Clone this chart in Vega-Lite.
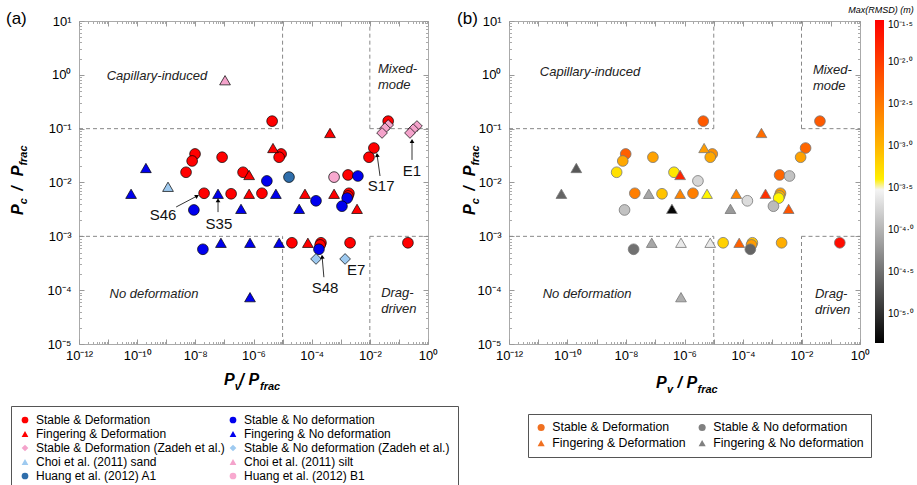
{
  "$schema": "https://vega.github.io/schema/vega-lite/v6.json",
  "padding": {"left": 5, "top": 5, "right": 0, "bottom": 0},
  "autosize": {"type": "pad"},
  "background": "white",
  "config": {
    "font": "Liberation Sans",
    "view": {"stroke": "#aaaaaa", "strokeWidth": 1},
    "axis": {"labelFont": "Liberation Sans", "labelColor": "#000000"},
    "legend": {"labelFont": "Liberation Sans", "titleFont": "Liberation Sans", "labelColor": "#000000", "titleColor": "#000000"},
    "text": {"font": "Liberation Sans"}
  },
  "datasets": {
    "pts": [
      {"pv": 9.77e-9, "pc": 0.0339, "group": "Stable & Deformation", "rmsd": 5.01e-3},
      {"pv": 7.76e-9, "pc": 0.0251, "group": "Stable & Deformation", "rmsd": 1.26e-3},
      {"pv": 4.79e-9, "pc": 0.0155, "group": "Stable & Deformation", "rmsd": 5.01e-4},
      {"pv": 8.32e-8, "pc": 0.0295, "group": "Stable & Deformation", "rmsd": 1.41e-3},
      {"pv": 2.0e-8, "pc": 0.00631, "group": "Stable & Deformation", "rmsd": 2.82e-3},
      {"pv": 1.70e-7, "pc": 0.00617, "group": "Stable & Deformation", "rmsd": 7.94e-4},
      {"pv": 4.37e-7, "pc": 0.0155, "group": "Stable & Deformation", "rmsd": 4.47e-4},
      {"pv": 1.95e-6, "pc": 0.00631, "group": "Stable & Deformation", "rmsd": 2.82e-3},
      {"pv": 4.37e-6, "pc": 0.138, "group": "Stable & Deformation", "rmsd": 5.62e-3},
      {"pv": 8.91e-6, "pc": 0.0339, "group": "Stable & Deformation", "rmsd": 2.0e-3},
      {"pv": 7.59e-6, "pc": 0.0295, "group": "Stable & Deformation", "rmsd": 1.26e-3},
      {"pv": 1.78e-3, "pc": 0.0138, "group": "Stable & Deformation", "rmsd": 4.47e-3},
      {"pv": 1.91e-3, "pc": 0.00631, "group": "Stable & Deformation", "rmsd": 1.58e-3},
      {"pv": 1.78e-3, "pc": 0.00562, "group": "Stable & Deformation", "rmsd": 1.0e-3},
      {"pv": 0.0138, "pc": 0.0437, "group": "Stable & Deformation", "rmsd": 4.47e-3},
      {"pv": 0.00933, "pc": 0.0295, "group": "Stable & Deformation", "rmsd": 1.41e-3},
      {"pv": 0.0427, "pc": 0.138, "group": "Stable & Deformation", "rmsd": 5.62e-3},
      {"pv": 2.09e-5, "pc": 7.59e-4, "group": "Stable & Deformation", "rmsd": 6.31e-4},
      {"pv": 2.09e-4, "pc": 7.59e-4, "group": "Stable & Deformation", "rmsd": 7.94e-4},
      {"pv": 1.95e-4, "pc": 6.92e-4, "group": "Stable & Deformation", "rmsd": 1.58e-3},
      {"pv": 2.09e-3, "pc": 7.59e-4, "group": "Stable & Deformation", "rmsd": 1.12e-3},
      {"pv": 0.204, "pc": 7.59e-4, "group": "Stable & Deformation", "rmsd": 0.0251},
      {"pv": 7.08e-7, "pc": 0.0138, "group": "Fingering & Deformation", "rmsd": 0.0158},
      {"pv": 7.08e-7, "pc": 0.00617, "group": "Fingering & Deformation", "rmsd": 2.51e-3},
      {"pv": 4.68e-6, "pc": 0.0437, "group": "Fingering & Deformation", "rmsd": 1.58e-3},
      {"pv": 4.27e-4, "pc": 0.0832, "group": "Fingering & Deformation", "rmsd": 3.98e-3},
      {"pv": 5.89e-5, "pc": 0.00617, "group": "Fingering & Deformation", "rmsd": 2.51e-3},
      {"pv": 5.89e-4, "pc": 0.00617, "group": "Fingering & Deformation", "rmsd": 0.0126},
      {"pv": 3.63e-3, "pc": 0.00324, "group": "Fingering & Deformation", "rmsd": 6.31e-3},
      {"pv": 7.41e-5, "pc": 7.59e-4, "group": "Fingering & Deformation", "rmsd": 5.01e-3},
      {"pv": 8.91e-9, "pc": 0.00309, "group": "Stable & No deformation", "rmsd": 1.26e-4},
      {"pv": 1.82e-8, "pc": 5.75e-4, "group": "Stable & No deformation", "rmsd": 3.16e-5},
      {"pv": 2.88e-6, "pc": 0.0107, "group": "Stable & No deformation", "rmsd": 1.78e-4},
      {"pv": 1.41e-4, "pc": 0.00457, "group": "Stable & No deformation", "rmsd": 2.0e-4},
      {"pv": 1.66e-3, "pc": 0.00513, "group": "Stable & No deformation", "rmsd": 3.55e-4},
      {"pv": 1.10e-3, "pc": 0.00363, "group": "Stable & No deformation", "rmsd": 1.12e-4},
      {"pv": 3.89e-3, "pc": 0.0132, "group": "Stable & No deformation", "rmsd": 1.26e-4},
      {"pv": 1.78e-4, "pc": 5.75e-4, "group": "Stable & No deformation", "rmsd": 2.51e-5},
      {"pv": 2.0e-10, "pc": 0.0186, "group": "Fingering & No deformation", "rmsd": 2.0e-5},
      {"pv": 6.17e-11, "pc": 0.00617, "group": "Fingering & No deformation", "rmsd": 2.51e-5},
      {"pv": 6.03e-8, "pc": 0.00617, "group": "Fingering & No deformation", "rmsd": 7.94e-5},
      {"pv": 3.72e-7, "pc": 0.00324, "group": "Fingering & No deformation", "rmsd": 5.01e-6},
      {"pv": 5.89e-6, "pc": 0.00617, "group": "Fingering & No deformation", "rmsd": 3.55e-4},
      {"pv": 3.72e-5, "pc": 0.00324, "group": "Fingering & No deformation", "rmsd": 6.31e-5},
      {"pv": 7.59e-8, "pc": 7.59e-4, "group": "Fingering & No deformation", "rmsd": 7.94e-5},
      {"pv": 7.59e-7, "pc": 7.59e-4, "group": "Fingering & No deformation", "rmsd": 2.51e-4},
      {"pv": 7.59e-6, "pc": 7.59e-4, "group": "Fingering & No deformation", "rmsd": 2.51e-4},
      {"pv": 7.59e-7, "pc": 7.41e-5, "group": "Fingering & No deformation", "rmsd": 8.91e-5},
      {"pv": 0.0427, "pc": 0.117, "group": "Stable & Deformation (Zadeh et al.)"},
      {"pv": 0.0331, "pc": 0.102, "group": "Stable & Deformation (Zadeh et al.)"},
      {"pv": 0.0263, "pc": 0.0832, "group": "Stable & Deformation (Zadeh et al.)"},
      {"pv": 0.417, "pc": 0.112, "group": "Stable & Deformation (Zadeh et al.)"},
      {"pv": 0.309, "pc": 0.0977, "group": "Stable & Deformation (Zadeh et al.)"},
      {"pv": 0.240, "pc": 0.0832, "group": "Stable & Deformation (Zadeh et al.)"},
      {"pv": 1.41e-4, "pc": 3.80e-4, "group": "Stable & No deformation (Zadeh et al.)"},
      {"pv": 1.41e-3, "pc": 3.80e-4, "group": "Stable & No deformation (Zadeh et al.)"},
      {"pv": 1.15e-9, "pc": 8.32e-3, "group": "Choi et al. (2011) sand"},
      {"pv": 1.05e-7, "pc": 0.794, "group": "Choi et al. (2011) silt"},
      {"pv": 1.66e-5, "pc": 0.0126, "group": "Huang et al. (2012) A1"},
      {"pv": 5.89e-4, "pc": 0.0126, "group": "Huang et al. (2012) B1"}
    ],
    "zones": [
      {"x": 1e-12, "x2": 1e-5, "y": 0.1, "y2": 0.1},
      {"x": 1e-5, "x2": 1e-5, "y": 0.1, "y2": 10},
      {"x": 1e-2, "x2": 1, "y": 0.1, "y2": 0.1},
      {"x": 1e-2, "x2": 1e-2, "y": 0.1, "y2": 10},
      {"x": 1e-12, "x2": 1e-5, "y": 1e-3, "y2": 1e-3},
      {"x": 1e-5, "x2": 1e-5, "y": 1e-5, "y2": 1e-3},
      {"x": 1e-2, "x2": 1, "y": 1e-3, "y2": 1e-3},
      {"x": 1e-2, "x2": 1e-2, "y": 1e-5, "y2": 1e-3}
    ],
    "arrows": [
      {"label": "S46", "x1": 2.19e-9, "y1": 3.51e-3, "x2": 1.15e-8, "y2": 5.62e-3},
      {"label": "S35", "x1": 6.03e-8, "y1": 2.82e-3, "x2": 6.03e-8, "y2": 4.68e-3},
      {"label": "S17", "x1": 2.24e-2, "y1": 1.32e-2, "x2": 1.78e-2, "y2": 3.24e-2},
      {"label": "E1", "x1": 0.282, "y1": 2.63e-2, "x2": 0.282, "y2": 5.89e-2},
      {"label": "S48", "x1": 2.63e-4, "y1": 1.74e-4, "x2": 2.29e-4, "y2": 4.17e-4}
    ],
    "notes": [
      {"label": "S46", "x": 7.76e-10, "y": 2.51e-3},
      {"label": "S35", "x": 6.46e-8, "y": 1.70e-3},
      {"label": "S17", "x": 2.45e-2, "y": 8.51e-3},
      {"label": "E1", "x": 0.282, "y": 1.62e-2},
      {"label": "S48", "x": 2.88e-4, "y": 1.10e-4},
      {"label": "E7", "x": 3.39e-3, "y": 2.34e-4}
    ]
  },
  "bounds": "flush",
  "spacing": 81,
  "resolve": {
    "scale": {"x": "independent", "y": "independent", "fill": "independent", "shape": "independent", "color": "independent"},
    "legend": {"fill": "independent", "shape": "independent", "color": "independent"},
    "axis": {"x": "independent", "y": "independent"}
  },
  "hconcat": [
    {
      "width": 349,
      "height": 323,
      "data": {"values": [{}]},
      "resolve": {"axis": {"x": "independent", "y": "independent"}},
      "layer": [
        {
          "data": {"name": "zones"},
          "mark": {"type": "rule", "strokeDash": [4, 3], "color": "#888888", "strokeWidth": 1},
          "encoding": {
            "x": {"field": "x", "type": "quantitative", "scale": {"type": "log", "domain": [1e-12, 1]},
              "axis": {"orient": "bottom", "values": [1e-12,1e-11,1e-10,1e-9,1e-8,1e-7,1e-6,1e-5,1e-4,1e-3,1e-2,1e-1,1], "labels": false, "tickSize": -5, "tickColor": "#999999", "domain": false, "grid": false, "title": null}},
            "x2": {"field": "x2"},
            "y": {"field": "y", "type": "quantitative", "scale": {"type": "log", "domain": [1e-5, 10]},
              "axis": {"orient": "left", "values": [1e-5,1e-4,1e-3,1e-2,1e-1,1,10], "labels": false, "tickSize": -5, "tickColor": "#999999", "domain": false, "grid": false, "title": null}},
            "y2": {"field": "y2"}
          }
        },
        {
          "data": {"name": "pts"},
          "mark": {"type": "point", "filled": true, "stroke": "#000000", "strokeWidth": 0.7, "size": 115, "opacity": 1},
          "encoding": {
            "x": {"field": "pv", "type": "quantitative", "scale": {"type": "log", "domain": [1e-12, 1]},
              "axis": {"orient": "bottom", "values": [1e-12,1e-10,1e-8,1e-6,1e-4,1e-2,1], "ticks": false, "domain": false, "grid": false, "title": null, "labelFontSize": 13, "labelPadding": 5, "labelFlush": false, "labelOverlap": false,
                "labelExpr": "'10' + (round(log(datum.value)/LN10) < 0 ? '⁻' : '') + (abs(round(log(datum.value)/LN10)) >= 10 ? ['⁰','¹','²','³','⁴','⁵','⁶','⁷','⁸','⁹'][floor(abs(round(log(datum.value)/LN10))/10)] : '') + ['⁰','¹','²','³','⁴','⁵','⁶','⁷','⁸','⁹'][abs(round(log(datum.value)/LN10)) % 10]"}},
            "y": {"field": "pc", "type": "quantitative", "scale": {"type": "log", "domain": [1e-5, 10]},
              "axis": {"orient": "left", "values": [1e-5,1e-4,1e-3,1e-2,1e-1,1,10], "ticks": false, "domain": false, "grid": false, "title": null, "labelFontSize": 13, "labelPadding": 8, "labelFlush": false, "labelOverlap": false,
                "labelExpr": "'10' + (round(log(datum.value)/LN10) < 0 ? '⁻' : '') + (abs(round(log(datum.value)/LN10)) >= 10 ? ['⁰','¹','²','³','⁴','⁵','⁶','⁷','⁸','⁹'][floor(abs(round(log(datum.value)/LN10))/10)] : '') + ['⁰','¹','²','³','⁴','⁵','⁶','⁷','⁸','⁹'][abs(round(log(datum.value)/LN10)) % 10]"}},
            "shape": {"field": "group", "type": "nominal",
              "scale": {"domain": ["Stable & Deformation", "Fingering & Deformation", "Stable & Deformation (Zadeh et al.)", "Choi et al. (2011) sand", "Huang et al. (2012) A1", "Stable & No deformation", "Fingering & No deformation", "Stable & No deformation (Zadeh et al.)", "Choi et al. (2011) silt", "Huang et al. (2012) B1"],
                "range": ["circle", "triangle-up", "diamond", "triangle-up", "circle", "circle", "triangle-up", "diamond", "triangle-up", "circle"]},
              "legend": {"orient": "none", "legendX": -68, "legendY": 385, "columns": 2, "title": null, "labelFontSize": 12, "symbolSize": 45, "symbolStrokeWidth": 0, "strokeColor": "#555555", "fillColor": "#ffffff", "padding": 8, "rowPadding": 2, "columnPadding": 2, "labelOffset": 5, "labelLimit": 400}},
            "fill": {"field": "group", "type": "nominal",
              "scale": {"domain": ["Stable & Deformation", "Fingering & Deformation", "Stable & Deformation (Zadeh et al.)", "Choi et al. (2011) sand", "Huang et al. (2012) A1", "Stable & No deformation", "Fingering & No deformation", "Stable & No deformation (Zadeh et al.)", "Choi et al. (2011) silt", "Huang et al. (2012) B1"],
                "range": ["#ff0000", "#ff0000", "#f4a3cb", "#9ecaf0", "#2f6eab", "#0000ee", "#0000ee", "#9ecaf0", "#f4a3cb", "#f8a9cf"]},
              "legend": {"orient": "none", "legendX": -68, "legendY": 385, "columns": 2, "title": null, "labelFontSize": 12, "symbolSize": 45, "symbolStrokeWidth": 0, "strokeColor": "#555555", "fillColor": "#ffffff", "padding": 8, "rowPadding": 2, "columnPadding": 2, "labelOffset": 5, "labelLimit": 400}}
          }
        },
        {
          "data": {"values": [{"label": "Capillary-induced", "x": 4.79e-10, "y": 0.955}, {"label": "No deformation", "x": 3.8e-10, "y": 8.51e-5}]},
          "mark": {"type": "text", "fontStyle": "italic", "fontSize": 13, "align": "center", "baseline": "middle", "color": "#222222"},
          "encoding": {
            "x": {"field": "x", "type": "quantitative", "scale": {"type": "log", "domain": [1e-12, 1]},
              "axis": {"orient": "bottom", "values": [2e-12,3e-12,4e-12,5e-12,6e-12,7e-12,8e-12,9e-12,2e-11,3e-11,4e-11,5e-11,6e-11,7e-11,8e-11,9e-11,2e-10,3e-10,4e-10,5e-10,6e-10,7e-10,8e-10,9e-10,2e-9,3e-9,4e-9,5e-9,6e-9,7e-9,8e-9,9e-9,2e-8,3e-8,4e-8,5e-8,6e-8,7e-8,8e-8,9e-8,2e-7,3e-7,4e-7,5e-7,6e-7,7e-7,8e-7,9e-7,2e-6,3e-6,4e-6,5e-6,6e-6,7e-6,8e-6,9e-6,2e-5,3e-5,4e-5,5e-5,6e-5,7e-5,8e-5,9e-5,2e-4,3e-4,4e-4,5e-4,6e-4,7e-4,8e-4,9e-4,2e-3,3e-3,4e-3,5e-3,6e-3,7e-3,8e-3,9e-3,2e-2,3e-2,4e-2,5e-2,6e-2,7e-2,8e-2,9e-2,0.2,0.3,0.4,0.5,0.6,0.7,0.8,0.9], "labels": false, "tickSize": -2.5, "tickColor": "#aaaaaa", "domain": false, "grid": false, "title": null}},
            "y": {"field": "y", "type": "quantitative", "scale": {"type": "log", "domain": [1e-5, 10]},
              "axis": {"orient": "left", "values": [2e-5,3e-5,4e-5,5e-5,6e-5,7e-5,8e-5,9e-5,2e-4,3e-4,4e-4,5e-4,6e-4,7e-4,8e-4,9e-4,2e-3,3e-3,4e-3,5e-3,6e-3,7e-3,8e-3,9e-3,2e-2,3e-2,4e-2,5e-2,6e-2,7e-2,8e-2,9e-2,0.2,0.3,0.4,0.5,0.6,0.7,0.8,0.9,2,3,4,5,6,7,8,9], "labels": false, "tickSize": -2.5, "tickColor": "#aaaaaa", "domain": false, "grid": false, "title": null}},
            "text": {"field": "label"}
          }
        },
        {
          "data": {"values": [{"label": "Mixed-\nmode", "x": 1.91e-2, "y": 1.28}, {"label": "Drag-\ndriven", "x": 2.45e-2, "y": 8.71e-5}]},
          "mark": {"type": "text", "fontStyle": "italic", "fontSize": 13, "align": "left", "baseline": "middle", "lineBreak": "\n", "lineHeight": 16, "color": "#222222"},
          "encoding": {
            "x": {"field": "x", "type": "quantitative", "scale": {"type": "log", "domain": [1e-12, 1]},
              "axis": {"orient": "top", "values": [1e-12,1e-11,1e-10,1e-9,1e-8,1e-7,1e-6,1e-5,1e-4,1e-3,1e-2,1e-1,1], "labels": false, "tickSize": -5, "tickColor": "#999999", "domain": false, "grid": false, "title": null}},
            "y": {"field": "y", "type": "quantitative", "scale": {"type": "log", "domain": [1e-5, 10]},
              "axis": {"orient": "right", "values": [1e-5,1e-4,1e-3,1e-2,1e-1,1,10], "labels": false, "tickSize": -5, "tickColor": "#999999", "domain": false, "grid": false, "title": null}},
            "text": {"field": "label"}
          }
        },
        {
          "data": {"name": "arrows"},
          "mark": {"type": "rule", "color": "#000000", "strokeWidth": 0.8},
          "encoding": {
            "x": {"field": "x1", "type": "quantitative", "scale": {"type": "log", "domain": [1e-12, 1]},
              "axis": {"orient": "top", "values": [2e-12,3e-12,4e-12,5e-12,6e-12,7e-12,8e-12,9e-12,2e-11,3e-11,4e-11,5e-11,6e-11,7e-11,8e-11,9e-11,2e-10,3e-10,4e-10,5e-10,6e-10,7e-10,8e-10,9e-10,2e-9,3e-9,4e-9,5e-9,6e-9,7e-9,8e-9,9e-9,2e-8,3e-8,4e-8,5e-8,6e-8,7e-8,8e-8,9e-8,2e-7,3e-7,4e-7,5e-7,6e-7,7e-7,8e-7,9e-7,2e-6,3e-6,4e-6,5e-6,6e-6,7e-6,8e-6,9e-6,2e-5,3e-5,4e-5,5e-5,6e-5,7e-5,8e-5,9e-5,2e-4,3e-4,4e-4,5e-4,6e-4,7e-4,8e-4,9e-4,2e-3,3e-3,4e-3,5e-3,6e-3,7e-3,8e-3,9e-3,2e-2,3e-2,4e-2,5e-2,6e-2,7e-2,8e-2,9e-2,0.2,0.3,0.4,0.5,0.6,0.7,0.8,0.9], "labels": false, "tickSize": -2.5, "tickColor": "#aaaaaa", "domain": false, "grid": false, "title": null}},
            "x2": {"field": "x2"},
            "y": {"field": "y1", "type": "quantitative", "scale": {"type": "log", "domain": [1e-5, 10]},
              "axis": {"orient": "right", "values": [2e-5,3e-5,4e-5,5e-5,6e-5,7e-5,8e-5,9e-5,2e-4,3e-4,4e-4,5e-4,6e-4,7e-4,8e-4,9e-4,2e-3,3e-3,4e-3,5e-3,6e-3,7e-3,8e-3,9e-3,2e-2,3e-2,4e-2,5e-2,6e-2,7e-2,8e-2,9e-2,0.2,0.3,0.4,0.5,0.6,0.7,0.8,0.9,2,3,4,5,6,7,8,9], "labels": false, "tickSize": -2.5, "tickColor": "#aaaaaa", "domain": false, "grid": false, "title": null}},
            "y2": {"field": "y2"}
          }
        },
        {
          "data": {"name": "arrows"},
          "mark": {"type": "point", "shape": "triangle-up", "filled": true, "color": "#000000", "size": 22, "opacity": 1},
          "encoding": {
            "x": {"field": "x2", "type": "quantitative", "scale": {"type": "log", "domain": [1e-12, 1]}, "axis": null},
            "y": {"field": "y2", "type": "quantitative", "scale": {"type": "log", "domain": [1e-5, 10]}, "axis": null},
            "angle": {"condition": [{"test": "datum.label === 'S46'", "value": 60}, {"test": "datum.label === 'S17'", "value": 352}, {"test": "datum.label === 'S48'", "value": 354}], "value": 0}
          }
        },
        {
          "data": {"name": "notes"},
          "mark": {"type": "text", "fontSize": 15, "align": "center", "baseline": "middle", "color": "#111111"},
          "encoding": {
            "x": {"field": "x", "type": "quantitative", "scale": {"type": "log", "domain": [1e-12, 1]}, "axis": null},
            "y": {"field": "y", "type": "quantitative", "scale": {"type": "log", "domain": [1e-5, 10]}, "axis": null},
            "text": {"field": "label"}
          }
        },
        {
          "mark": {"type": "text", "text": "(a)", "fontSize": 17, "align": "left", "baseline": "alphabetic"},
          "encoding": {
            "x": {"datum": 3.09e-15, "type": "quantitative", "scale": {"type": "log", "domain": [1e-12, 1]}, "axis": null},
            "y": {"datum": 8.79, "type": "quantitative", "scale": {"type": "log", "domain": [1e-5, 10]}, "axis": null}
          }
        },
        {
          "mark": {"type": "text", "text": "P", "fontSize": 16, "fontWeight": "bold", "fontStyle": "italic", "align": "left", "baseline": "alphabetic"},
          "encoding": {
            "x": {"datum": 9.687e-8, "type": "quantitative", "scale": {"type": "log", "domain": [1e-12, 1]}, "axis": null},
            "y": {"datum": 1.730e-6, "type": "quantitative", "scale": {"type": "log", "domain": [1e-5, 10]}, "axis": null}
          }
        },
        {
          "mark": {"type": "text", "text": "v", "fontSize": 11, "fontWeight": "bold", "fontStyle": "italic", "align": "left", "baseline": "alphabetic"},
          "encoding": {
            "x": {"datum": 2.261e-7, "type": "quantitative", "scale": {"type": "log", "domain": [1e-12, 1]}, "axis": null},
            "y": {"datum": 1.396e-6, "type": "quantitative", "scale": {"type": "log", "domain": [1e-5, 10]}, "axis": null}
          }
        },
        {
          "mark": {"type": "text", "text": "/ P", "fontSize": 16, "fontWeight": "bold", "fontStyle": "italic", "align": "left", "baseline": "alphabetic"},
          "encoding": {
            "x": {"datum": 3.306e-7, "type": "quantitative", "scale": {"type": "log", "domain": [1e-12, 1]}, "axis": null},
            "y": {"datum": 1.730e-6, "type": "quantitative", "scale": {"type": "log", "domain": [1e-5, 10]}, "axis": null}
          }
        },
        {
          "mark": {"type": "text", "text": "frac", "fontSize": 11, "fontWeight": "bold", "fontStyle": "italic", "align": "left", "baseline": "alphabetic"},
          "encoding": {
            "x": {"datum": 1.676e-6, "type": "quantitative", "scale": {"type": "log", "domain": [1e-12, 1]}, "axis": null},
            "y": {"datum": 1.396e-6, "type": "quantitative", "scale": {"type": "log", "domain": [1e-5, 10]}, "axis": null}
          }
        },
        {
          "mark": {"type": "text", "text": "P", "angle": 270, "fontSize": 16, "fontWeight": "bold", "fontStyle": "italic", "align": "left", "baseline": "alphabetic"},
          "encoding": {
            "x": {"datum": 1.186e-14, "type": "quantitative", "scale": {"type": "log", "domain": [1e-12, 1]}, "axis": null},
            "y": {"datum": 2.489e-3, "type": "quantitative", "scale": {"type": "log", "domain": [1e-5, 10]}, "axis": null}
          }
        },
        {
          "mark": {"type": "text", "text": "c", "angle": 270, "fontSize": 11, "fontWeight": "bold", "fontStyle": "italic", "align": "left", "baseline": "alphabetic"},
          "encoding": {
            "x": {"datum": 1.694e-14, "type": "quantitative", "scale": {"type": "log", "domain": [1e-12, 1]}, "axis": null},
            "y": {"datum": 3.933e-3, "type": "quantitative", "scale": {"type": "log", "domain": [1e-5, 10]}, "axis": null}
          }
        },
        {
          "mark": {"type": "text", "text": "/", "angle": 270, "fontSize": 16, "fontWeight": "bold", "fontStyle": "italic", "align": "left", "baseline": "alphabetic"},
          "encoding": {
            "x": {"datum": 1.186e-14, "type": "quantitative", "scale": {"type": "log", "domain": [1e-12, 1]}, "axis": null},
            "y": {"datum": 7.0e-3, "type": "quantitative", "scale": {"type": "log", "domain": [1e-5, 10]}, "axis": null}
          }
        },
        {
          "mark": {"type": "text", "text": "P", "angle": 270, "fontSize": 16, "fontWeight": "bold", "fontStyle": "italic", "align": "left", "baseline": "alphabetic"},
          "encoding": {
            "x": {"datum": 1.186e-14, "type": "quantitative", "scale": {"type": "log", "domain": [1e-12, 1]}, "axis": null},
            "y": {"datum": 1.30e-2, "type": "quantitative", "scale": {"type": "log", "domain": [1e-5, 10]}, "axis": null}
          }
        },
        {
          "mark": {"type": "text", "text": "frac", "angle": 270, "fontSize": 11, "fontWeight": "bold", "fontStyle": "italic", "align": "left", "baseline": "alphabetic"},
          "encoding": {
            "x": {"datum": 1.694e-14, "type": "quantitative", "scale": {"type": "log", "domain": [1e-12, 1]}, "axis": null},
            "y": {"datum": 2.06e-2, "type": "quantitative", "scale": {"type": "log", "domain": [1e-5, 10]}, "axis": null}
          }
        }
      ]
    },
    {
      "width": 351,
      "height": 323,
      "data": {"values": [{}]},
      "resolve": {"axis": {"x": "independent", "y": "independent"}},
      "layer": [
        {
          "data": {"name": "zones"},
          "mark": {"type": "rule", "strokeDash": [4, 3], "color": "#888888", "strokeWidth": 1},
          "encoding": {
            "x": {"field": "x", "type": "quantitative", "scale": {"type": "log", "domain": [1e-12, 1]},
              "axis": {"orient": "bottom", "values": [1e-12,1e-11,1e-10,1e-9,1e-8,1e-7,1e-6,1e-5,1e-4,1e-3,1e-2,1e-1,1], "labels": false, "tickSize": -5, "tickColor": "#999999", "domain": false, "grid": false, "title": null}},
            "x2": {"field": "x2"},
            "y": {"field": "y", "type": "quantitative", "scale": {"type": "log", "domain": [1e-5, 10]},
              "axis": {"orient": "left", "values": [1e-5,1e-4,1e-3,1e-2,1e-1,1,10], "labels": false, "tickSize": -5, "tickColor": "#999999", "domain": false, "grid": false, "title": null}},
            "y2": {"field": "y2"}
          }
        },
        {
          "data": {"name": "pts"},
          "transform": [{"filter": "isValid(datum.rmsd)"}],
          "mark": {"type": "point", "filled": true, "stroke": "#777777", "strokeWidth": 0.8, "size": 115, "opacity": 1},
          "encoding": {
            "x": {"field": "pv", "type": "quantitative", "scale": {"type": "log", "domain": [1e-12, 1]},
              "axis": {"orient": "bottom", "values": [1e-12,1e-10,1e-8,1e-6,1e-4,1e-2,1], "ticks": false, "domain": false, "grid": false, "title": null, "labelFontSize": 13, "labelPadding": 5, "labelFlush": false, "labelOverlap": false,
                "labelExpr": "'10' + (round(log(datum.value)/LN10) < 0 ? '⁻' : '') + (abs(round(log(datum.value)/LN10)) >= 10 ? ['⁰','¹','²','³','⁴','⁵','⁶','⁷','⁸','⁹'][floor(abs(round(log(datum.value)/LN10))/10)] : '') + ['⁰','¹','²','³','⁴','⁵','⁶','⁷','⁸','⁹'][abs(round(log(datum.value)/LN10)) % 10]"}},
            "y": {"field": "pc", "type": "quantitative", "scale": {"type": "log", "domain": [1e-5, 10]},
              "axis": {"orient": "left", "values": [1e-5,1e-4,1e-3,1e-2,1e-1,1,10], "ticks": false, "domain": false, "grid": false, "title": null, "labelFontSize": 13, "labelPadding": 8, "labelFlush": false, "labelOverlap": false,
                "labelExpr": "'10' + (round(log(datum.value)/LN10) < 0 ? '⁻' : '') + (abs(round(log(datum.value)/LN10)) >= 10 ? ['⁰','¹','²','³','⁴','⁵','⁶','⁷','⁸','⁹'][floor(abs(round(log(datum.value)/LN10))/10)] : '') + ['⁰','¹','²','³','⁴','⁵','⁶','⁷','⁸','⁹'][abs(round(log(datum.value)/LN10)) % 10]"}},
            "fill": {"field": "rmsd", "type": "quantitative",
              "scale": {"type": "log", "domain": [4.467e-6, 3.0e-4, 3.09e-4, 1e-3, 3.162e-3, 1e-2, 3.162e-2], "range": ["#000000", "#f4f4f4", "#ffff00", "#ffb400", "#ff7800", "#ff3c00", "#ff0000"], "interpolate": "rgb"},
              "legend": {"orient": "none", "legendX": 366, "legendY": -1, "direction": "vertical", "type": "gradient", "gradientLength": 323, "gradientThickness": 9, "gradientStrokeWidth": 0,
                "title": null,
                "values": [0.0316228, 0.01, 0.00316228, 0.001, 0.000316228, 0.0001, 3.16228e-5, 1e-5],
                "labelFontSize": 10, "labelOffset": 4, "labelOverlap": false,
                "labelExpr": "'10⁻' + ['⁰','¹','²','³','⁴','⁵','⁶','⁷','⁸','⁹'][floor(abs(log(datum.value)/LN10) + 0.001)] + '·' + ['⁰','¹','²','³','⁴','⁵','⁶','⁷','⁸','⁹'][round(abs(log(datum.value)/LN10)*10) % 10]"}},
            "shape": {"field": "group", "type": "nominal",
              "scale": {"domain": ["Stable & Deformation", "Fingering & Deformation", "Stable & No deformation", "Fingering & No deformation"], "range": ["circle", "triangle-up", "circle", "triangle-up"]},
              "legend": {"orient": "none", "legendX": 19, "legendY": 393, "columns": 2, "title": null, "labelFontSize": 12.3, "symbolSize": 50, "symbolStrokeWidth": 0, "strokeColor": "#555555", "fillColor": "#ffffff", "padding": 7, "rowPadding": 3, "columnPadding": 10, "labelOffset": 5, "labelLimit": 400}}
          }
        },
        {
          "data": {"name": "pts"},
          "transform": [{"filter": "isValid(datum.rmsd)"}],
          "mark": {"type": "point", "filled": true, "size": 0, "opacity": 1},
          "encoding": {
            "x": {"field": "pv", "type": "quantitative", "scale": {"type": "log", "domain": [1e-12, 1]}, "axis": null},
            "y": {"field": "pc", "type": "quantitative", "scale": {"type": "log", "domain": [1e-5, 10]}, "axis": null},
            "shape": {"field": "group", "type": "nominal",
              "scale": {"domain": ["Stable & Deformation", "Fingering & Deformation", "Stable & No deformation", "Fingering & No deformation"], "range": ["circle", "triangle-up", "circle", "triangle-up"]},
              "legend": {"orient": "none", "legendX": 19, "legendY": 393, "columns": 2, "title": null, "labelFontSize": 12.3, "symbolSize": 50, "symbolStrokeWidth": 0, "strokeColor": "#555555", "fillColor": "#ffffff", "padding": 7, "rowPadding": 3, "columnPadding": 10, "labelOffset": 5, "labelLimit": 400}},
            "color": {"field": "group", "type": "nominal",
              "scale": {"domain": ["Stable & Deformation", "Fingering & Deformation", "Stable & No deformation", "Fingering & No deformation"], "range": ["#f07020", "#f07020", "#808080", "#808080"]},
              "legend": {"orient": "none", "legendX": 19, "legendY": 393, "columns": 2, "title": null, "labelFontSize": 12.3, "symbolSize": 50, "symbolStrokeWidth": 0, "strokeColor": "#555555", "fillColor": "#ffffff", "padding": 7, "rowPadding": 3, "columnPadding": 10, "labelOffset": 5, "labelLimit": 400}}
          }
        },
        {
          "data": {"values": [{"label": "Capillary-induced", "x": 5.89e-10, "y": 1.12}, {"label": "No deformation", "x": 4.68e-10, "y": 8.51e-5}]},
          "mark": {"type": "text", "fontStyle": "italic", "fontSize": 13, "align": "center", "baseline": "middle", "color": "#222222"},
          "encoding": {
            "x": {"field": "x", "type": "quantitative", "scale": {"type": "log", "domain": [1e-12, 1]},
              "axis": {"orient": "bottom", "values": [2e-12,3e-12,4e-12,5e-12,6e-12,7e-12,8e-12,9e-12,2e-11,3e-11,4e-11,5e-11,6e-11,7e-11,8e-11,9e-11,2e-10,3e-10,4e-10,5e-10,6e-10,7e-10,8e-10,9e-10,2e-9,3e-9,4e-9,5e-9,6e-9,7e-9,8e-9,9e-9,2e-8,3e-8,4e-8,5e-8,6e-8,7e-8,8e-8,9e-8,2e-7,3e-7,4e-7,5e-7,6e-7,7e-7,8e-7,9e-7,2e-6,3e-6,4e-6,5e-6,6e-6,7e-6,8e-6,9e-6,2e-5,3e-5,4e-5,5e-5,6e-5,7e-5,8e-5,9e-5,2e-4,3e-4,4e-4,5e-4,6e-4,7e-4,8e-4,9e-4,2e-3,3e-3,4e-3,5e-3,6e-3,7e-3,8e-3,9e-3,2e-2,3e-2,4e-2,5e-2,6e-2,7e-2,8e-2,9e-2,0.2,0.3,0.4,0.5,0.6,0.7,0.8,0.9], "labels": false, "tickSize": -2.5, "tickColor": "#aaaaaa", "domain": false, "grid": false, "title": null}},
            "y": {"field": "y", "type": "quantitative", "scale": {"type": "log", "domain": [1e-5, 10]},
              "axis": {"orient": "left", "values": [2e-5,3e-5,4e-5,5e-5,6e-5,7e-5,8e-5,9e-5,2e-4,3e-4,4e-4,5e-4,6e-4,7e-4,8e-4,9e-4,2e-3,3e-3,4e-3,5e-3,6e-3,7e-3,8e-3,9e-3,2e-2,3e-2,4e-2,5e-2,6e-2,7e-2,8e-2,9e-2,0.2,0.3,0.4,0.5,0.6,0.7,0.8,0.9,2,3,4,5,6,7,8,9], "labels": false, "tickSize": -2.5, "tickColor": "#aaaaaa", "domain": false, "grid": false, "title": null}},
            "text": {"field": "label"}
          }
        },
        {
          "data": {"values": [{"label": "Mixed-\nmode", "x": 2.45e-2, "y": 1.23}, {"label": "Drag-\ndriven", "x": 2.88e-2, "y": 8.32e-5}]},
          "mark": {"type": "text", "fontStyle": "italic", "fontSize": 13, "align": "left", "baseline": "middle", "lineBreak": "\n", "lineHeight": 16, "color": "#222222"},
          "encoding": {
            "x": {"field": "x", "type": "quantitative", "scale": {"type": "log", "domain": [1e-12, 1]},
              "axis": {"orient": "top", "values": [1e-12,1e-11,1e-10,1e-9,1e-8,1e-7,1e-6,1e-5,1e-4,1e-3,1e-2,1e-1,1], "labels": false, "tickSize": -5, "tickColor": "#999999", "domain": false, "grid": false, "title": null}},
            "y": {"field": "y", "type": "quantitative", "scale": {"type": "log", "domain": [1e-5, 10]},
              "axis": {"orient": "right", "values": [1e-5,1e-4,1e-3,1e-2,1e-1,1,10], "labels": false, "tickSize": -5, "tickColor": "#999999", "domain": false, "grid": false, "title": null}},
            "text": {"field": "label"}
          }
        },
        {
          "mark": {"type": "text", "text": "(b)", "fontSize": 17, "align": "left", "baseline": "alphabetic"},
          "encoding": {
            "x": {"datum": 1.67e-14, "type": "quantitative", "scale": {"type": "log", "domain": [1e-12, 1]},
              "axis": {"orient": "top", "values": [2e-12,3e-12,4e-12,5e-12,6e-12,7e-12,8e-12,9e-12,2e-11,3e-11,4e-11,5e-11,6e-11,7e-11,8e-11,9e-11,2e-10,3e-10,4e-10,5e-10,6e-10,7e-10,8e-10,9e-10,2e-9,3e-9,4e-9,5e-9,6e-9,7e-9,8e-9,9e-9,2e-8,3e-8,4e-8,5e-8,6e-8,7e-8,8e-8,9e-8,2e-7,3e-7,4e-7,5e-7,6e-7,7e-7,8e-7,9e-7,2e-6,3e-6,4e-6,5e-6,6e-6,7e-6,8e-6,9e-6,2e-5,3e-5,4e-5,5e-5,6e-5,7e-5,8e-5,9e-5,2e-4,3e-4,4e-4,5e-4,6e-4,7e-4,8e-4,9e-4,2e-3,3e-3,4e-3,5e-3,6e-3,7e-3,8e-3,9e-3,2e-2,3e-2,4e-2,5e-2,6e-2,7e-2,8e-2,9e-2,0.2,0.3,0.4,0.5,0.6,0.7,0.8,0.9], "labels": false, "tickSize": -2.5, "tickColor": "#aaaaaa", "domain": false, "grid": false, "title": null}},
            "y": {"datum": 8.79, "type": "quantitative", "scale": {"type": "log", "domain": [1e-5, 10]},
              "axis": {"orient": "right", "values": [2e-5,3e-5,4e-5,5e-5,6e-5,7e-5,8e-5,9e-5,2e-4,3e-4,4e-4,5e-4,6e-4,7e-4,8e-4,9e-4,2e-3,3e-3,4e-3,5e-3,6e-3,7e-3,8e-3,9e-3,2e-2,3e-2,4e-2,5e-2,6e-2,7e-2,8e-2,9e-2,0.2,0.3,0.4,0.5,0.6,0.7,0.8,0.9,2,3,4,5,6,7,8,9], "labels": false, "tickSize": -2.5, "tickColor": "#aaaaaa", "domain": false, "grid": false, "title": null}}
          }
        },
        {
          "mark": {"type": "text", "text": "Max(RMSD) (m)", "fontSize": 9, "fontStyle": "italic", "align": "center", "baseline": "alphabetic"},
          "encoding": {
            "x": {"datum": 5.22, "type": "quantitative", "scale": {"type": "log", "domain": [1e-12, 1]}, "axis": null},
            "y": {"datum": 14.08, "type": "quantitative", "scale": {"type": "log", "domain": [1e-5, 10]}, "axis": null}
          }
        },
        {
          "mark": {"type": "text", "text": "P", "fontSize": 16, "fontWeight": "bold", "fontStyle": "italic", "align": "left", "baseline": "alphabetic"},
          "encoding": {
            "x": {"datum": 1.061e-7, "type": "quantitative", "scale": {"type": "log", "domain": [1e-12, 1]}, "axis": null},
            "y": {"datum": 1.521e-6, "type": "quantitative", "scale": {"type": "log", "domain": [1e-5, 10]}, "axis": null}
          }
        },
        {
          "mark": {"type": "text", "text": "v", "fontSize": 11, "fontWeight": "bold", "fontStyle": "italic", "align": "left", "baseline": "alphabetic"},
          "encoding": {
            "x": {"datum": 2.522e-7, "type": "quantitative", "scale": {"type": "log", "domain": [1e-12, 1]}, "axis": null},
            "y": {"datum": 1.227e-6, "type": "quantitative", "scale": {"type": "log", "domain": [1e-5, 10]}, "axis": null}
          }
        },
        {
          "mark": {"type": "text", "text": "/ P", "fontSize": 16, "fontWeight": "bold", "fontStyle": "italic", "align": "left", "baseline": "alphabetic"},
          "encoding": {
            "x": {"datum": 5.763e-7, "type": "quantitative", "scale": {"type": "log", "domain": [1e-12, 1]}, "axis": null},
            "y": {"datum": 1.521e-6, "type": "quantitative", "scale": {"type": "log", "domain": [1e-5, 10]}, "axis": null}
          }
        },
        {
          "mark": {"type": "text", "text": "frac", "fontSize": 11, "fontWeight": "bold", "fontStyle": "italic", "align": "left", "baseline": "alphabetic"},
          "encoding": {
            "x": {"datum": 2.781e-6, "type": "quantitative", "scale": {"type": "log", "domain": [1e-12, 1]}, "axis": null},
            "y": {"datum": 1.227e-6, "type": "quantitative", "scale": {"type": "log", "domain": [1e-5, 10]}, "axis": null}
          }
        },
        {
          "mark": {"type": "text", "text": "P", "angle": 270, "fontSize": 16, "fontWeight": "bold", "fontStyle": "italic", "align": "left", "baseline": "alphabetic"},
          "encoding": {
            "x": {"datum": 6.89e-14, "type": "quantitative", "scale": {"type": "log", "domain": [1e-12, 1]}, "axis": null},
            "y": {"datum": 2.489e-3, "type": "quantitative", "scale": {"type": "log", "domain": [1e-5, 10]}, "axis": null}
          }
        },
        {
          "mark": {"type": "text", "text": "c", "angle": 270, "fontSize": 11, "fontWeight": "bold", "fontStyle": "italic", "align": "left", "baseline": "alphabetic"},
          "encoding": {
            "x": {"datum": 9.79e-14, "type": "quantitative", "scale": {"type": "log", "domain": [1e-12, 1]}, "axis": null},
            "y": {"datum": 3.933e-3, "type": "quantitative", "scale": {"type": "log", "domain": [1e-5, 10]}, "axis": null}
          }
        },
        {
          "mark": {"type": "text", "text": "/", "angle": 270, "fontSize": 16, "fontWeight": "bold", "fontStyle": "italic", "align": "left", "baseline": "alphabetic"},
          "encoding": {
            "x": {"datum": 6.89e-14, "type": "quantitative", "scale": {"type": "log", "domain": [1e-12, 1]}, "axis": null},
            "y": {"datum": 7.0e-3, "type": "quantitative", "scale": {"type": "log", "domain": [1e-5, 10]}, "axis": null}
          }
        },
        {
          "mark": {"type": "text", "text": "P", "angle": 270, "fontSize": 16, "fontWeight": "bold", "fontStyle": "italic", "align": "left", "baseline": "alphabetic"},
          "encoding": {
            "x": {"datum": 6.89e-14, "type": "quantitative", "scale": {"type": "log", "domain": [1e-12, 1]}, "axis": null},
            "y": {"datum": 1.30e-2, "type": "quantitative", "scale": {"type": "log", "domain": [1e-5, 10]}, "axis": null}
          }
        },
        {
          "mark": {"type": "text", "text": "frac", "angle": 270, "fontSize": 11, "fontWeight": "bold", "fontStyle": "italic", "align": "left", "baseline": "alphabetic"},
          "encoding": {
            "x": {"datum": 9.79e-14, "type": "quantitative", "scale": {"type": "log", "domain": [1e-12, 1]}, "axis": null},
            "y": {"datum": 2.06e-2, "type": "quantitative", "scale": {"type": "log", "domain": [1e-5, 10]}, "axis": null}
          }
        }
      ]
    }
  ]
}
